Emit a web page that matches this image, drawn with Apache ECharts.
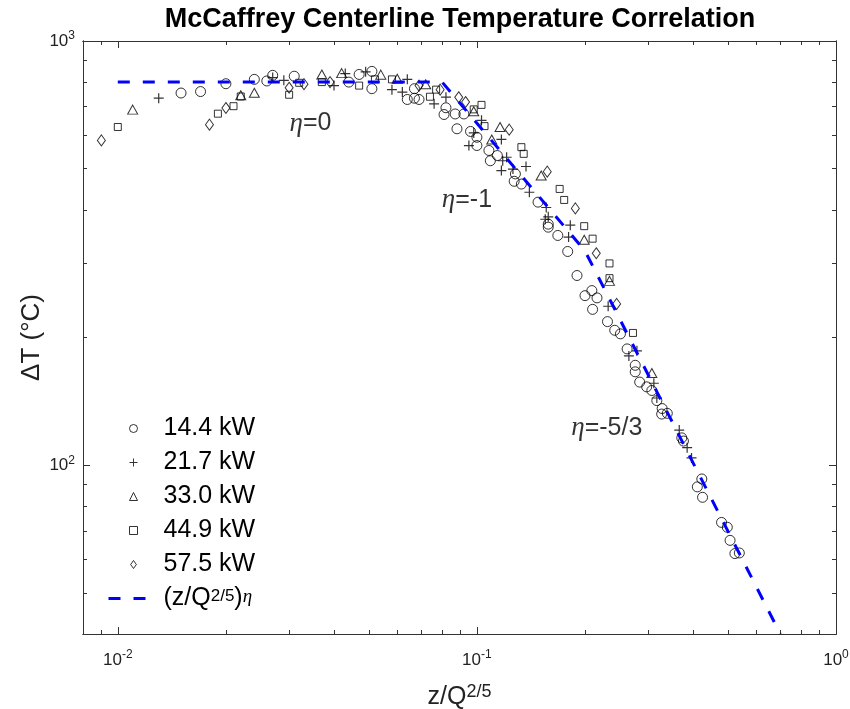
<!DOCTYPE html>
<html>
<head>
<meta charset="utf-8">
<script src="https://cdn.jsdelivr.net/npm/echarts@6/dist/echarts.min.js"></script>
<style>html,body{margin:0;padding:0;background:#fff}#main{width:850px;height:709px}</style>
</head>
<body>
<div id="main"></div>
<script>
var seriesNames = ['14.4 kW', '21.7 kW', '33.0 kW', '44.9 kW', '57.5 kW'];

// [z/Q^(2/5), dT]
var kW14 = [[0.015,754],[0.017,760],[0.020,793],[0.024,812],[0.026,805],[0.027,830],[0.031,826],[0.044,800],
  [0.047,834],[0.051,848],[0.051,772],[0.064,728],[0.067,733],[0.069,728],[0.067,772],[0.082,696],[0.081,671],
  [0.087,673],[0.092,673],[0.088,621],[0.096,612],[0.100,593],[0.100,567],[0.108,552],[0.109,522],[0.114,537],
  [0.128,486],[0.127,467],[0.133,460],[0.148,417],[0.158,370],[0.158,364],[0.168,348],[0.179,319],[0.190,280],
  [0.200,251],[0.216,248],[0.209,258],[0.210,233],[0.231,218],[0.242,208],[0.251,204],[0.262,188],[0.276,172],
  [0.276,166],[0.284,157],[0.297,153],[0.307,150],[0.317,142],[0.328,136],[0.327,132],[0.339,132.5],[0.372,116],
  [0.376,114],[0.423,92.8],[0.411,88.9],[0.425,84],[0.480,73.3],[0.498,71.4],[0.507,66.5],[0.523,61.9],[0.538,62.1]];
var kW21 = [[0.013,733],[0.027,820],[0.029,808],[0.040,785],[0.043,838],[0.049,846],[0.058,768],[0.064,812],
  [0.062,758],[0.076,711],[0.082,737],[0.098,607],[0.103,650],[0.117,586],[0.095,567],[0.118,522],[0.117,495],
  [0.121,532],[0.126,499],[0.137,506],[0.140,440],[0.156,405],[0.155,380],[0.158,385],[0.182,368],[0.180,345],
  [0.232,237],[0.265,181],[0.279,186],[0.311,156],[0.317,144],[0.366,121],[0.385,110],[0.396,104]];
var kW33 = [[0.011,689],[0.022,745],[0.024,755],[0.037,834],[0.042,840],[0.054,833],[0.060,815],[0.072,791],
  [0.098,683],[0.116,627],[0.110,586],[0.151,482],[0.199,340],[0.234,272],[0.307,165]];
var kW44 = [[0.010,627],[0.019,674],[0.021,702],[0.022,740],[0.030,747],[0.032,797],[0.037,800],[0.047,785],
  [0.052,812],[0.058,812],[0.074,739],[0.077,768],[0.098,690],[0.103,707],[0.105,630],[0.133,562],[0.135,542],
  [0.170,448],[0.175,422],[0.199,366],[0.210,342],[0.234,299],[0.234,276],[0.272,205]];
var kW57 = [[0.009,583],[0.018,635],[0.020,695],[0.030,776],[0.033,791],[0.039,800],[0.069,785],[0.079,768],
  [0.089,737],[0.093,718],[0.123,618],[0.157,492],[0.188,403],[0.215,316],[0.245,240]];

// correlation (z/Q^2/5)^eta, break points
var fitLine = [[0.01,800],[0.08,800],[0.2,320],[0.7,40]];
var etaLabels = [['0', 0.0344, 639], ['-1', 0.0938, 422], ['-5/3', 0.23, 122.5]];

var xMajor = [0.01, 0.1, 1];
var xMinor = [0.009, 0.02,0.03,0.04,0.05,0.06,0.07,0.08,0.09, 0.2,0.3,0.4,0.5,0.6,0.7,0.8,0.9];
var yMajor = [100, 1000];
var yMinor = [40,50,60,70,80,90, 200,300,400,500,600,700,800,900];

var font = 'Liberation Sans, Arial, Helvetica, sans-serif';
var axisColor = '#333';

function powLabel(v) {
    var e = Math.round(Math.log(v) / Math.LN10);
    return '{b|10}{s|' + e + '}';
}
var powRich = {
    b: {fontSize: 17, fontFamily: font, color: '#222', lineHeight: 22},
    s: {fontSize: 12, fontFamily: font, color: '#222', lineHeight: 12, verticalAlign: 'top'}
};

function logAxis(kind, grid, pos, ticks, len, labels, extra) {
    var ax = {
        type: 'log', gridIndex: grid, position: pos,
        min: kind === 'x' ? 0.008 : 40, max: kind === 'x' ? 1 : 1000,
        axisLine: {show: true, lineStyle: {color: axisColor, width: 1}},
        axisTick: {show: true, inside: true, length: len, customValues: ticks, lineStyle: {color: axisColor}},
        axisLabel: labels ? {show: true, customValues: ticks, formatter: powLabel, rich: powRich,
            margin: kind === 'x' ? 15 : 8} : {show: false},
        splitLine: {show: false},
        minorTick: {show: false}
    };
    for (var k in extra) ax[k] = extra[k];
    return ax;
}

var symbols = [
    'circle',
    'path://M0,4.4H10V5.6H0Z M4.4,0H5.6V10H4.4Z',
    'path://M5,0L10,10L0,10Z',
    'path://M0,0H10V10H0Z',
    'path://M5,0L10,7L5,14L0,7Z'
];
var sizes = [10, 10, [10, 9], 7, [8, 11]];
var sets = [kW14, kW21, kW33, kW44, kW57];

var series = sets.map(function (d, i) {
    var plus = i === 1;
    return {
        name: seriesNames[i], type: 'scatter', xAxisIndex: 0, yAxisIndex: 0,
        data: d, symbol: symbols[i], symbolSize: sizes[i],
        itemStyle: plus ? {color: '#000'} : {color: 'rgba(0,0,0,0)', borderColor: '#000', borderWidth: 1},
        z: 3
    };
});
series.push({
    name: 'fit', type: 'line', xAxisIndex: 0, yAxisIndex: 0, data: fitLine,
    symbol: 'none', lineStyle: {color: '#0000ff', width: 3, type: [12, 13]}, z: 4
});
series.push({
    name: 'eta', type: 'scatter', xAxisIndex: 0, yAxisIndex: 0, symbolSize: 1, silent: true,
    itemStyle: {color: 'rgba(0,0,0,0)'},
    data: etaLabels.map(function (e) { return {name: e[0], value: [e[1], e[2]]}; }),
    label: {
        show: true, position: 'inside', color: '#000', fontSize: 25, fontFamily: font,
        formatter: function (p) { return '{g|\u03b7}=' + p.name; },
        rich: {g: {fontFamily: 'Liberation Serif, DejaVu Serif, serif', fontStyle: 'italic', fontSize: 27, color: '#000'}}
    }
});

var legendData = seriesNames.map(function (n) { return {name: n}; });
legendData.push({name: 'fit', itemStyle: {color: 'rgba(0,0,0,0)', borderWidth: 0}});

var myChart = echarts.init(document.getElementById('main'));
var option = {
    animation: false,
    backgroundColor: '#fff',
    title: {
        text: 'McCaffrey Centerline Temperature Correlation',
        left: 455, top: 1, textAlign: 'center',
        textStyle: {fontSize: 27, fontWeight: 'bold', fontFamily: font, color: '#000'}
    },
    grid: [
        {left: 83, right: 14, top: 41, bottom: 75, outerBoundsMode: 'none', containLabel: false},
        {left: 83, right: 14, top: 41, bottom: 75, outerBoundsMode: 'none', containLabel: false}
    ],
    legend: {
        data: legendData,
        orient: 'vertical', left: 102, top: 411,
        itemWidth: 50, itemHeight: 8, itemGap: 9,
        symbolKeepAspect: true,
        itemStyle: {borderWidth: 1},
        lineStyle: {width: 3},
        textStyle: {fontSize: 25, fontFamily: font, color: '#000', lineHeight: 22,
            rich: {
                s: {fontSize: 17, fontFamily: font, color: '#000', verticalAlign: 'top', lineHeight: 10},
                e: {fontSize: 19, fontFamily: 'Liberation Serif, serif', fontStyle: 'italic', color: '#000', verticalAlign: 'top', lineHeight: 10}
            }},
        formatter: function (n) { return n === 'fit' ? '(z/Q{s|2/5}){e|\u03b7}' : n; }
    },
    xAxis: [
        logAxis('x', 0, 'bottom', xMajor, 7, true, {
            name: 'z/Q{s|2/5}', nameLocation: 'middle', nameGap: 49, nameMoveOverlap: false,
            nameTextStyle: {fontSize: 25, fontFamily: font, color: '#222', lineHeight: 28,
                rich: {s: {fontSize: 18, fontFamily: font, color: '#222', verticalAlign: 'top', lineHeight: 18}}}
        }),
        logAxis('x', 0, 'top', xMajor, 7, false, {}),
        logAxis('x', 1, 'bottom', xMinor, 4, false, {}),
        logAxis('x', 1, 'top', xMinor, 4, false, {})
    ],
    yAxis: [
        logAxis('y', 0, 'left', yMajor, 7, true, {
            name: '\u0394T (\u00b0C)', nameLocation: 'middle', nameGap: 38, nameRotate: 90, nameMoveOverlap: false,
            nameTextStyle: {fontSize: 26, fontFamily: font, color: '#222'}
        }),
        logAxis('y', 0, 'right', yMajor, 7, false, {}),
        logAxis('y', 1, 'left', yMinor, 4, false, {}),
        logAxis('y', 1, 'right', yMinor, 4, false, {})
    ],
    series: series
};
myChart.setOption(option);
</script>
</body>
</html>
